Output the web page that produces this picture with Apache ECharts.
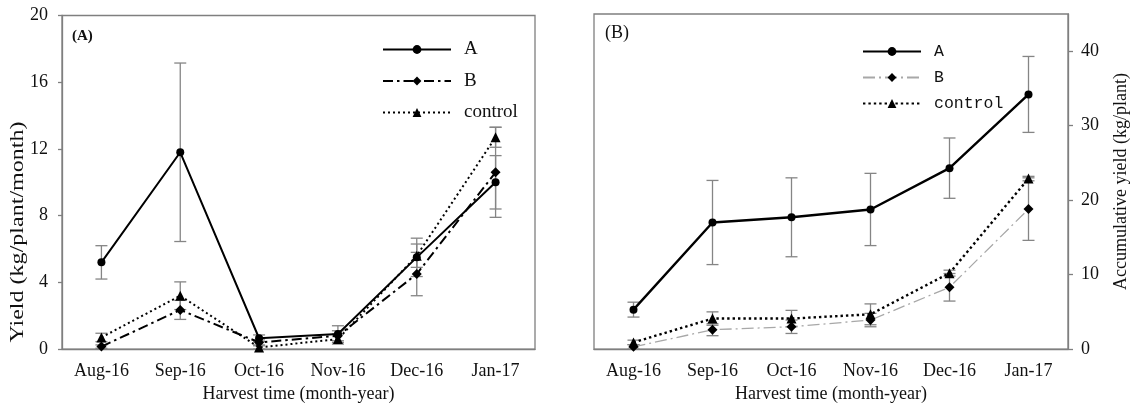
<!DOCTYPE html>
<html>
<head>
<meta charset="utf-8">
<script src="https://cdn.jsdelivr.net/npm/echarts@6/dist/echarts.min.js"></script>
<style>html,body{margin:0;padding:0;background:#fff;}#c{width:1134px;height:408px;}</style>
</head>
<body>
<div id="c"></div>
<script>
const categories = ['Aug-16', 'Sep-16', 'Oct-16', 'Nov-16', 'Dec-16', 'Jan-17'];
const leftTicks = [0, 4, 8, 12, 16, 20];
const rightTicks = [0, 10, 20, 30, 40];
// Panel (A): monthly yield (kg/plant/month)
const monthA = [5.2, 11.8, 0.65, 0.9, 5.5, 10.0];
const monthAErr = [1.0, 5.35, 0.2, 0.5, 1.15, 1.6];
const monthB = [0.15, 2.35, 0.4, 0.8, 4.5, 10.6];
const monthBErr = [0.1, 0.57, 0.15, 0.3, 1.3, 2.7];
const monthCtrl = [0.7, 3.2, 0.1, 0.6, 5.6, 12.7];
const monthCtrlErr = [0.25, 0.83, 0.1, 0.3, 0.7, 0.6];
// Panel (B): accumulative yield (kg/plant)
const cumA = [5.3, 17.0, 17.7, 18.75, 24.3, 34.2];
const cumAErr = [1.0, 5.65, 5.3, 4.85, 4.05, 5.1];
const cumB = [0.3, 2.6, 3.0, 3.9, 8.3, 18.8];
const cumBErr = [0.3, 0.8, 0.9, 0.9, 1.85, 4.2];
const cumCtrl = [0.9, 4.1, 4.1, 4.67, 10.2, 22.9];
const cumCtrlErr = [0.3, 0.9, 1.1, 1.4, 0.4, 0.3];

const FONT = 'Liberation Serif';
const AX = '#7f7f7f';

function errData(vals, errs) {
  return vals.map((v, i) => [i, Math.max(0, v - errs[i]), v + errs[i]]);
}
function errRender(params, api) {
  const i = api.value(0), lo = api.value(1), hi = api.value(2);
  const p1 = api.coord([i, hi]);
  const p2 = api.coord([i, lo]);
  const w = 6;
  const style = { stroke: '#858585', lineWidth: 1.3 };
  return { type: 'group', children: [
    { type: 'line', shape: { x1: p1[0], y1: p1[1], x2: p2[0], y2: p2[1] }, style },
    { type: 'line', shape: { x1: p1[0] - w, y1: p1[1], x2: p1[0] + w, y2: p1[1] }, style },
    { type: 'line', shape: { x1: p2[0] - w, y1: p2[1], x2: p2[0] + w, y2: p2[1] }, style }
  ]};
}
function errSeries(idx, vals, errs) {
  return { type: 'custom', xAxisIndex: idx, yAxisIndex: idx, renderItem: errRender,
    encode: { x: 0, y: [1, 2] }, data: errData(vals, errs), z: 1, silent: true };
}
function xAx(gi) {
  return {
    type: 'category', gridIndex: gi, data: categories, boundaryGap: true,
    name: 'Harvest time (month-year)', nameLocation: 'middle', nameGap: 32,
    nameTextStyle: { fontFamily: FONT, fontSize: 18, color: '#111' },
    axisLine: { lineStyle: { color: AX, width: 1.3 } },
    axisTick: { alignWithLabel: true, length: 5, lineStyle: { color: AX, width: 1.3 } },
    axisLabel: { fontFamily: FONT, fontSize: 18, color: '#111', margin: 13 },
    splitLine: { show: false }
  };
}

const option = {
  animation: false,
  backgroundColor: '#fff',
  grid: [
    { left: 62, right: 599, top: 15.5, bottom: 55, show: true, borderColor: AX, borderWidth: 1.3, containLabel: false },
    { left: 594, right: 66, top: 14, bottom: 56.3, show: true, borderColor: AX, borderWidth: 1.3, containLabel: false }
  ],
  xAxis: [xAx(0), xAx(1)],
  yAxis: [
    { type: 'value', gridIndex: 0, min: 0, max: 20, interval: 4, position: 'left',
      axisLine: { show: true, lineStyle: { color: AX, width: 1.3 } },
      axisTick: { show: true, length: 4, lineStyle: { color: AX, width: 1.3 }, customValues: leftTicks },
      axisLabel: { fontFamily: FONT, fontSize: 18, color: '#111', margin: 14, customValues: leftTicks },
      splitLine: { show: false } },
    { type: 'value', gridIndex: 1, min: 0, max: 45, interval: 10, position: 'right',
      name: 'Accumulative yield (kg/plant)', nameLocation: 'middle', nameGap: 44, nameRotate: 90,
      nameTextStyle: { fontFamily: FONT, fontSize: 18, color: '#111' },
      axisLine: { show: true, lineStyle: { color: AX, width: 1.3 } },
      axisTick: { show: true, length: 5, lineStyle: { color: AX, width: 1.3 }, customValues: rightTicks },
      axisLabel: { fontFamily: FONT, fontSize: 18, color: '#111', margin: 13, customValues: rightTicks },
      splitLine: { show: false } }
  ],
  legend: [
    { data: ['A', 'B', 'control'], orient: 'vertical', left: 377, top: 35, itemWidth: 68, itemHeight: 11, itemGap: 12.5,
      textStyle: { fontFamily: FONT, fontSize: 19, color: '#111', padding: [0, 0, 0, 8] }, selectedMode: false },
    { data: ['A ', 'B ', 'control '], orient: 'vertical', left: 857, top: 38, itemWidth: 58, itemHeight: 11, itemGap: 9,
      formatter: n => n.trim(),
      textStyle: { fontFamily: 'Liberation Mono', fontSize: 16.5, color: '#111', padding: [0, 0, 0, 8] }, selectedMode: false }
  ],
  graphic: [
    { type: 'text', x: 72, y: 36, style: { text: '(A)', font: 'bold 15px "Liberation Serif"', fill: '#111', textVerticalAlign: 'middle' } },
    { type: 'text', x: 605, y: 33, style: { text: '(B)', font: '18px "Liberation Serif"', fill: '#111', textVerticalAlign: 'middle' } },
    { type: 'text', x: 18, y: 232, rotation: Math.PI / 2, scaleX: 1.3,
      style: { text: 'Yield (kg/plant/month)', font: '18.5px "Liberation Serif"', fill: '#111', textAlign: 'center', textVerticalAlign: 'middle' } }
  ],
  series: [
    errSeries(0, monthA, monthAErr),
    errSeries(0, monthB, monthBErr),
    errSeries(0, monthCtrl, monthCtrlErr),
    errSeries(1, cumA, cumAErr),
    errSeries(1, cumB, cumBErr),
    errSeries(1, cumCtrl, cumCtrlErr),
    { name: 'A', type: 'line', xAxisIndex: 0, yAxisIndex: 0, data: monthA, z: 3,
      symbol: 'circle', symbolSize: 8, itemStyle: { color: '#000' },
      lineStyle: { color: '#000', width: 2 } },
    { name: 'B', type: 'line', xAxisIndex: 0, yAxisIndex: 0, data: monthB, z: 3,
      symbol: 'diamond', symbolSize: 10, itemStyle: { color: '#000' },
      lineStyle: { color: '#000', width: 2, type: [10, 4, 2.5, 4] } },
    { name: 'control', type: 'line', xAxisIndex: 0, yAxisIndex: 0, data: monthCtrl, z: 3,
      symbol: 'triangle', symbolSize: 10, itemStyle: { color: '#000' },
      lineStyle: { color: '#000', width: 2, type: [2, 3] } },
    { name: 'A ', type: 'line', xAxisIndex: 1, yAxisIndex: 1, data: cumA, z: 3,
      symbol: 'circle', symbolSize: 8, itemStyle: { color: '#000' },
      lineStyle: { color: '#000', width: 2.4 } },
    { name: 'B ', type: 'line', xAxisIndex: 1, yAxisIndex: 1, data: cumB, z: 3,
      symbol: 'diamond', symbolSize: 10, itemStyle: { color: '#000' },
      lineStyle: { color: '#a8a8a8', width: 1.3, type: [12, 4, 2, 4] } },
    { name: 'control ', type: 'line', xAxisIndex: 1, yAxisIndex: 1, data: cumCtrl, z: 3,
      symbol: 'triangle', symbolSize: 10, itemStyle: { color: '#000' },
      lineStyle: { color: '#000', width: 2.4, type: [2.4, 3] } }
  ]
};
const chart = echarts.init(document.getElementById('c'), null, { renderer: 'canvas' });
chart.setOption(option);
</script>
</body>
</html>
